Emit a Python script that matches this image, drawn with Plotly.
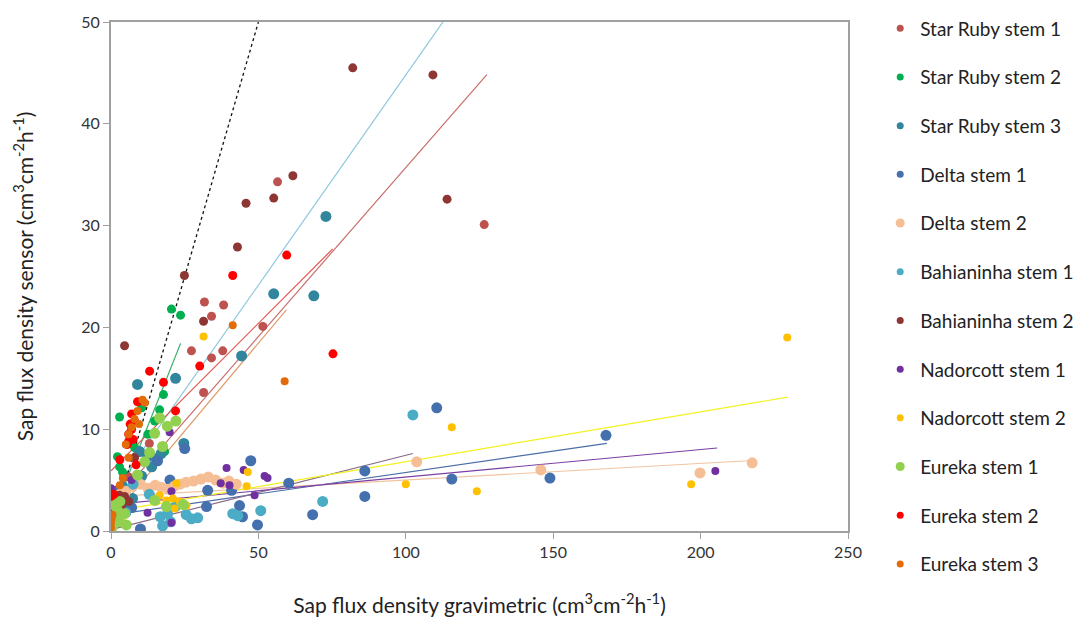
import plotly.graph_objects as go

# ---- measured sap flux density (gravimetric vs sensor), cm3 cm-2 h-1 ----
series_names = [
    "Star Ruby stem 1", "Star Ruby stem 2", "Star Ruby stem 3",
    "Delta stem 1", "Delta stem 2", "Bahianinha stem 1", "Bahianinha stem 2",
    "Nadorcott stem 1", "Nadorcott stem 2", "Eureka stem 1", "Eureka stem 2",
    "Eureka stem 3",
]

sr1_x = [126.6, 56.5, 31.7, 38.2, 34.1, 27.3, 34.1, 37.9, 51.5, 31.4, 9.0, 6.0, 3.0, 13.0, 2.0]
sr1_y = [30.1, 34.3, 22.5, 22.2, 21.1, 17.7, 17.0, 17.7, 20.1, 13.6, 7.9, 5.3, 3.0, 8.6, 1.8]

sr2_x = [20.5, 23.6, 17.8, 16.5, 2.9, 10.4, 18.2, 2.2, 2.9, 3.9, 12.5, 14.8, 5.0, 1.0, 0.5, 8.0]
sr2_y = [21.8, 21.2, 13.4, 11.9, 11.2, 12.1, 7.8, 7.3, 6.3, 5.8, 9.5, 10.8, 4.0, 2.6, 1.2, 8.2]

sr3_x = [72.9, 55.2, 68.8, 44.3, 21.9, 9.0, 9.7, 12.4, 15.4, 13.8, 10.4, 3.9, 7.3, 0.0, 17.0, 1.5, 5.5, 24.7]
sr3_y = [30.9, 23.3, 23.1, 17.2, 15.0, 14.4, 7.8, 7.3, 7.1, 6.3, 5.4, 4.4, 3.2, 2.5, 7.6, 1.8, 2.6, 8.6]

d1_x = [167.9, 110.5, 148.9, 115.6, 86.1, 86.1, 68.4, 49.7, 47.4, 43.6, 44.6, 40.9, 32.4, 32.8,
        60.3, 10.0, 25.0, 3.0, 0.5, 15.8, 1.5, 20.0, 7.0]
d1_y = [9.4, 12.1, 5.2, 5.1, 3.4, 5.9, 1.6, 0.6, 6.9, 2.5, 1.4, 4.0, 2.4, 4.0,
        4.7, 0.2, 8.1, 1.9, 2.0, 6.9, 3.9, 5.0, 2.3]

d2_x = [217.5, 199.8, 145.8, 103.7, 5.0, 7.5, 10.0, 12.5, 15.0, 17.0, 19.5, 21.5, 23.5, 25.5,
        28.0, 30.5, 33.0, 35.5, 38.0, 40.0, 42.5, 3.0, 1.5]
d2_y = [6.7, 5.7, 6.0, 6.8, 3.9, 4.4, 4.6, 4.2, 4.5, 4.3, 4.1, 4.4, 4.6, 4.8,
        4.9, 5.1, 5.3, 5.0, 4.7, 4.9, 4.6, 3.6, 3.2]

b1_x = [102.4, 71.8, 50.8, 41.3, 43.0, 29.4, 27.3, 20.2, 17.5, 16.7, 25.5, 19.2, 21.8, 5.0, 3.0, 7.5, 13.0, 1.0]
b1_y = [11.4, 2.9, 2.0, 1.7, 1.5, 1.3, 1.2, 0.9, 0.5, 1.4, 1.6, 1.7, 2.4, 1.8, 2.3, 4.6, 3.6, 1.0]

b2_x = [82.0, 109.2, 114.0, 61.7, 55.2, 45.8, 42.9, 24.9, 31.4, 4.6, 2.9, 4.6, 3.6, 6.0, 1.5, 8.0]
b2_y = [45.5, 44.8, 32.6, 34.9, 32.7, 32.2, 27.9, 25.1, 20.6, 18.2, 3.5, 3.4, 2.5, 2.9, 3.0, 7.2]

n1_x = [205.0, 39.2, 45.0, 52.1, 53.1, 37.2, 40.2, 48.7, 19.9, 7.0, 0.0, 12.4, 20.5, 20.5, 0.5]
n1_y = [5.9, 6.2, 6.0, 5.4, 5.2, 4.7, 4.5, 3.5, 9.7, 5.0, 4.2, 1.8, 3.9, 0.8, 1.5]

n2_x = [229.4, 196.8, 124.1, 115.6, 100.0, 31.4, 46.4, 46.0, 22.2, 16.5, 18.8, 21.0, 21.6, 23.3,
        15.4, 3.9, 19.0, 25.6]
n2_y = [19.0, 4.6, 3.9, 10.2, 4.6, 19.1, 5.8, 4.4, 4.7, 3.5, 3.0, 3.2, 2.2, 2.9,
        2.9, 0.8, 2.3, 2.5]

e1_x = [16.5, 19.1, 14.8, 17.5, 13.1, 11.4, 2.2, 1.9, 4.6, 5.2, 14.8, 18.8, 1.0, 3.0, 0.5, 22.0, 9.0, 24.5, 2.5]
e1_y = [11.1, 10.3, 9.6, 8.3, 7.7, 6.8, 2.0, 1.3, 1.7, 0.6, 3.0, 2.4, 2.6, 2.9, 0.4, 10.8, 5.5, 2.6, 0.9]

e2_x = [41.3, 59.6, 75.3, 30.1, 13.1, 17.8, 21.9, 7.0, 6.5, 7.0, 6.0, 7.5, 6.0, 5.5, 8.0, 9.0, 3.0, 0.0, 1.0, 8.5]
e2_y = [25.1, 27.1, 17.4, 16.2, 15.7, 14.6, 11.8, 11.5, 10.5, 10.0, 9.5, 9.0, 8.8, 8.5, 10.8, 12.7, 7.0, 3.4, 3.6, 6.5]

e3_x = [58.9, 41.3, 10.7, 11.5, 9.0, 8.0, 7.0, 6.0, 5.0, 6.0, 4.0, 3.0, 0.0, 0.0, 0.5, 0.2, 9.5]
e3_y = [14.7, 20.2, 12.9, 12.6, 11.8, 11.0, 10.2, 9.5, 8.5, 7.2, 5.2, 4.5, 0.3, 0.8, 1.6, 1.2, 10.5]

series_x = [sr1_x, sr2_x, sr3_x, d1_x, d2_x, b1_x, b2_x, n1_x, n2_x, e1_x, e2_x, e3_x]
series_y = [sr1_y, sr2_y, sr3_y, d1_y, d2_y, b1_y, b2_y, n1_y, n2_y, e1_y, e2_y, e3_y]

series_colors = ["#bd524f", "#00b050", "#31859c", "#4470ad", "#f6be94", "#4bacc6",
                 "#8e3634", "#7030a0", "#ffc000", "#92d050", "#ff0000", "#e36c09"]
series_sizes = [9, 9, 11, 11, 11, 11, 9, 8, 8, 11, 9, 8]
legend_sizes = [7, 7, 7, 7, 9, 7, 7, 7, 7, 9, 7, 7]

# ---- linear trendlines (slope, intercept, x-range) ----
trend_slope = [0.332, 0.73, 0.413, 0.042, 0.0163, 0.073, 0.027, 0.049, 0.29, 0.345]
trend_intercept = [2.5, 1.2, 3.5, 1.55, 3.38, 0.14, 2.6, 1.9, 5.9, 1.2]
trend_x0 = [1.8, 0.5, 0.0, 0.0, 1.5, 1.0, 0.0, 3.9, 0.0, 0.0]
trend_x1 = [127.5, 23.6, 125.0, 168.2, 217.5, 102.4, 205.6, 229.5, 75.2, 59.5]
trend_colors = ["#c86e6b", "#2fae64", "#8fc8dc", "#4a6ea6", "#f2c3a0", "#8a6a88",
                "#7a3fa5", "#f2f21e", "#e4544e", "#e09a6a"]

# 1:1 reference line
one_to_one_x = [0, 50]
one_to_one_y = [0, 50]

x_ticks = [0, 50, 100, 150, 200, 250]
y_ticks = [0, 10, 20, 30, 40, 50]

fig = go.Figure()

for s, m, x0, x1, c in zip(trend_slope, trend_intercept, trend_x0, trend_x1, trend_colors):
    fig.add_trace(go.Scatter(
        x=[x0, x1], y=[s * x0 + m, s * x1 + m], mode="lines",
        line=dict(color=c, width=1.2), showlegend=False, hoverinfo="skip"))

fig.add_trace(go.Scatter(
    x=one_to_one_x, y=one_to_one_y, mode="lines",
    line=dict(color="#111111", width=1.3, dash="dot"), showlegend=False, hoverinfo="skip"))

for name, xs, ys, c, sz in zip(series_names, series_x, series_y, series_colors, series_sizes):
    fig.add_trace(go.Scatter(
        x=xs, y=ys, mode="markers", name=name, legendgroup=name, showlegend=False,
        marker=dict(color=c, size=sz, line=dict(width=0))))

# legend entries with small key markers
for name, c, ls in zip(series_names, series_colors, legend_sizes):
    fig.add_trace(go.Scatter(
        x=[None], y=[None], mode="markers", name=name, legendgroup=name,
        marker=dict(color=c, size=ls, line=dict(width=0))))

font_family = "Lato, Open Sans, sans-serif"
axis_line = "#a0a0a0"

fig.update_layout(
    width=1080, height=626,
    margin=dict(l=111, r=232, t=16, b=93),
    paper_bgcolor="white", plot_bgcolor="white",
    font=dict(family=font_family, color="#222222", size=16),
    legend=dict(
        xref="container", yref="container", x=0.815, y=0.985,
        xanchor="left", yanchor="top",
        font=dict(size=19, color="#222222"),
        tracegroupgap=21, itemsizing="trace", maxheight=626,
        bgcolor="rgba(0,0,0,0)",
    ),
    xaxis=dict(
        range=[0, 250], tickvals=x_ticks, ticktext=[str(v) for v in x_ticks],
        showgrid=False, zeroline=False, showline=True, mirror=True,
        linecolor=axis_line, linewidth=2, ticks="outside", ticklen=6,
        tickcolor=axis_line, tickfont=dict(size=16, color="#333333"),
        title=dict(text="Sap flux density gravimetric (cm<sup>3</sup>cm<sup>-2</sup>h<sup>-1</sup>)",
                   font=dict(size=21, color="#222222"), standoff=38),
    ),
    yaxis=dict(
        range=[0, 50], tickvals=y_ticks, ticktext=[str(v) for v in y_ticks],
        showgrid=False, zeroline=False, showline=True, mirror=True,
        linecolor=axis_line, linewidth=2, ticks="outside", ticklen=6,
        tickcolor=axis_line, tickfont=dict(size=16, color="#333333"),
        title=dict(text="Sap flux density sensor (cm<sup>3</sup>cm<sup>-2</sup>h<sup>-1</sup>)",
                   font=dict(size=21, color="#222222"), standoff=42),
    ),
)

fig.write_html("out.html")
